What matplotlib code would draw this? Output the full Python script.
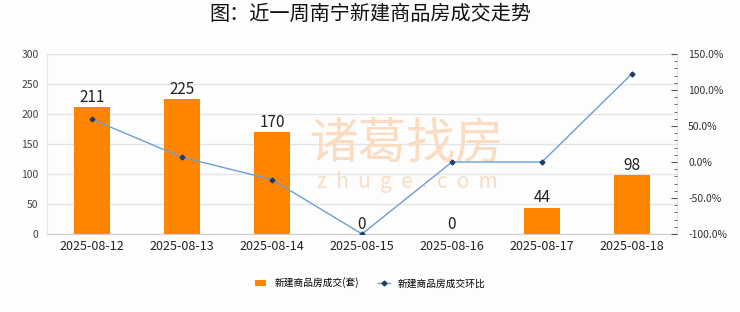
import matplotlib
matplotlib.use("Agg")
import matplotlib.pyplot as plt
from matplotlib.ticker import MultipleLocator, FuncFormatter
import numpy as np

plt.rcParams['font.family'] = ['Noto Sans CJK SC', 'DejaVu Sans']

dates = ["2025-08-12", "2025-08-13", "2025-08-14", "2025-08-15", "2025-08-16", "2025-08-17", "2025-08-18"]
volume = [211, 225, 170, 0, 0, 44, 98]
mom_pct = [59.3, 6.6, -24.4, -100.0, 0.0, 0.0, 122.7]
title = "图：近一周南宁新建商品房成交走势"
bar_label = "新建商品房成交(套)"
line_label = "新建商品房成交环比"

fig = plt.figure(figsize=(7.4, 3.12), dpi=100)
fig.patch.set_facecolor("#fdfdfd")
ax = fig.add_axes([47/740, 1-234/312, 630/740, 180/312])
ax.set_facecolor("#fdfdfd")
x = np.arange(len(dates))
bars = ax.bar(x, volume, width=0.4, color="#ff8500", zorder=2, label=bar_label)
for xi, v in zip(x, volume):
    ax.text(xi, v + 2, str(v), ha="center", va="bottom", fontsize=11, color="#222222", zorder=5)
ax.set_xlim(-0.5, len(dates) - 0.5)
ax.set_ylim(0, 300)
ax.yaxis.set_major_locator(MultipleLocator(50))
ax.set_xticks(x)
ax.set_xticklabels(dates, fontsize=9, color="#222222")
ax.tick_params(axis="x", length=0, pad=4)
ax.tick_params(axis="y", length=0, labelsize=7.5, labelcolor="#444444", pad=6)
ax.grid(axis="y", color="#e4e4e4", linewidth=1, zorder=0)
for s in ["top", "left", "right"]:
    ax.spines[s].set_color("#e4e4e4")
ax.spines["bottom"].set_color("#d0d0d0")

ax2 = ax.twinx()
ln, = ax2.plot(x, mom_pct, color="#6a9fd4", linewidth=1, marker="D", markersize=2.5,
               markerfacecolor="#1f3f66", markeredgecolor="#1f3f66", zorder=4, label=line_label)
ax2.set_ylim(-100, 150)
ax2.yaxis.set_major_locator(MultipleLocator(50))
ax2.yaxis.set_minor_locator(MultipleLocator(10))
ax2.yaxis.set_major_formatter(FuncFormatter(lambda v, p: f"{v:.1f}%"))
ax2.tick_params(axis="y", which="major", direction="in", length=4, color="#555555", labelsize=7.5, labelcolor="#333333", pad=8)
ax2.tick_params(axis="y", which="minor", direction="in", length=2.5, color="#555555")
for s in ["top", "left", "right", "bottom"]:
    ax2.spines[s].set_visible(False)

ax2.text(0.572, 0.50, "诸葛找房", transform=ax.transAxes, fontsize=35, color="#fadcc3",
         ha="center", va="center", zorder=0)
ax2.text(0.572, 0.29, "z  h  u  g  e  .  c  o  m", transform=ax.transAxes, fontsize=15, color="#fadcc3",
         ha="center", va="center", zorder=0)

fig.text(0.5, 1-14/312, title, ha="center", va="center", fontsize=14.5, color="#111111")

fig.legend(handles=[bars, ln], labels=[bar_label, line_label], loc="center",
           bbox_to_anchor=(370/740, 1-283/312), ncol=2, frameon=False, fontsize=7,
           handlelength=1.2, handleheight=0.7, columnspacing=2, markerscale=1)

fig.savefig("out.png", dpi=100, facecolor=fig.get_facecolor())
